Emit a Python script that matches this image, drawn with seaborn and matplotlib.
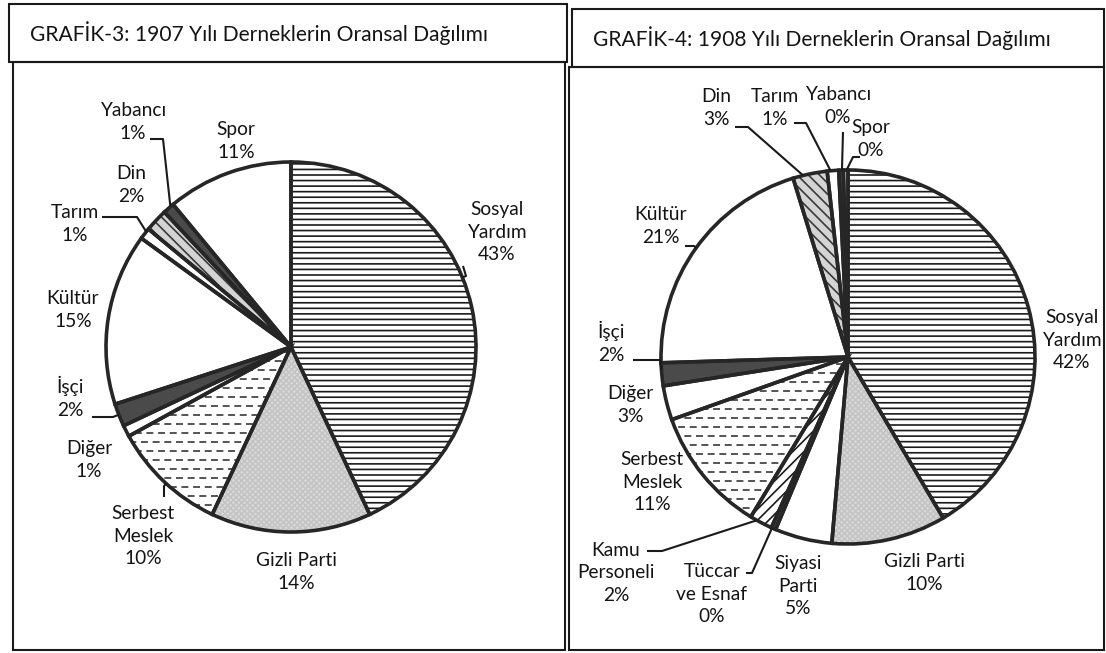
import numpy as np
import matplotlib
matplotlib.use("Agg")
import matplotlib.pyplot as plt
import seaborn as sns
from matplotlib.patches import Rectangle

# ---------------- data ----------------
titles = ["GRAFİK-3: 1907 Yılı Derneklerin Oransal Dağılımı",
          "GRAFİK-4: 1908 Yılı Derneklerin Oransal Dağılımı"]

categories_1907 = ["Sosyal Yardım", "Gizli Parti", "Serbest Meslek", "Diğer", "İşçi",
                   "Kültür", "Tarım", "Din", "Yabancı", "Spor"]
values_1907 = [43, 14, 10, 1, 2, 15, 1, 2, 1, 11]

categories_1908 = ["Sosyal Yardım", "Gizli Parti", "Siyasi Parti", "Tüccar ve Esnaf",
                   "Kamu Personeli", "Serbest Meslek", "Diğer", "İşçi", "Kültür",
                   "Din", "Tarım", "Yabancı", "Spor"]
values_1908 = [42, 10, 5, 0.4, 2, 11, 3, 2, 21, 3, 1, 0.4, 0.4]

# wrapped display names
display_names = {"Sosyal Yardım": "Sosyal\nYardım", "Serbest Meslek": "Serbest\nMeslek",
                 "Siyasi Parti": "Siyasi\nParti", "Tüccar ve Esnaf": "Tüccar\nve Esnaf",
                 "Kamu Personeli": "Kamu\nPersoneli"}

# ---------------- styles ----------------
DARK = "#4a4a4a"
styles = {  # face, hatch, hatch colour
    "Sosyal Yardım": ("white", "---", "#1a1a1a"),
    "Gizli Parti": ("#dadada", "xxxxxx", "#c4c4c4"),
    "Siyasi Parti": ("white", None, "white"),
    "Tüccar ve Esnaf": (DARK, None, DARK),
    "Kamu Personeli": ("white", "///", "#1a1a1a"),
    "Serbest Meslek": ("white", "dash", "#262626"),
    "Diğer": ("white", None, "white"),
    "İşçi": (DARK, None, DARK),
    "Kültür": ("white", None, "white"),
    "Tarım": ("white", None, "white"),
    "Din": ("#d4d4d4", "\\\\\\", "#3a3a3a"),
    "Yabancı": (DARK, None, DARK),
    "Spor": ("white", None, "white"),
}

W, H = 1106, 653
sns.set_theme(style="white")
plt.rcParams["font.family"] = ["Lato", "DejaVu Sans"]
plt.rcParams["lines.scale_dashes"] = False
plt.rcParams["hatch.linewidth"] = 1.2

fig = plt.figure(figsize=(W / 100, H / 100), dpi=100)
fig.patch.set_facecolor("white")
ax = fig.add_axes([0, 0, 1, 1])
ax.set_axis_off()

EDGE = "#262626"
TXT = "#141414"

# layout (image pixel coordinates, y downward)
panels = [
    dict(cats=categories_1907, vals=values_1907, center=(291, 347), r=185,
         title_xy=(30, 33),
         title_box=(9, 4, 567, 62), chart_box=(13, 62, 565, 650),
         label_xy={"Sosyal Yardım": (497, 232), "Gizli Parti": (296, 572),
                   "Serbest Meslek": (143, 536), "Diğer": (89, 460), "İşçi": (70, 397),
                   "Kültür": (73, 310), "Tarım": (75, 224), "Din": (131, 185),
                   "Yabancı": (133, 122), "Spor": (236, 141)},
         leaders={"Yabancı": [(150, 139), (163, 139)], "Tarım": [(102, 217), (137, 217)],
                  "Sosyal Yardım": [(463, 266), (466, 276)], "İşçi": [(92, 417), (113, 417)],
                  "Serbest Meslek": [(164, 497), (164, 486)]}),
    dict(cats=categories_1908, vals=values_1908, center=(848, 357), r=187,
         title_xy=(593, 38),
         title_box=(572, 9, 1104, 67), chart_box=(569, 67, 1104, 650),
         label_xy={"Sosyal Yardım": (1072, 340), "Gizli Parti": (924, 573),
                   "Siyasi Parti": (798, 586), "Tüccar ve Esnaf": (712, 594),
                   "Kamu Personeli": (616, 573), "Serbest Meslek": (652, 482),
                   "Diğer": (630, 405), "İşçi": (611, 342), "Kültür": (661, 226),
                   "Din": (716, 108), "Tarım": (775, 108), "Yabancı": (838, 106),
                   "Spor": (871, 139)},
         leaders={"Din": [(735, 127), (748, 127)], "Tarım": [(794, 123), (806, 123)],
                  "Yabancı": [(843, 132)], "Spor": [(860, 157), (853, 157)],
                  "Kültür": [(685, 246), (694, 246)], "İşçi": [(633, 360), (660, 360)],
                  "Kamu Personeli": [(647, 551), (662, 551)],
                  "Tüccar ve Esnaf": [(746, 573), (752, 573)]}),
]


def Y(y):
    return H - y


for k, p in enumerate(panels):
    # boxes
    for (x0, y0, x1, y1) in (p["title_box"], p["chart_box"]):
        ax.add_patch(Rectangle((x0, Y(y1)), x1 - x0, y1 - y0, fill=False,
                               edgecolor="#1a1a1a", linewidth=1.5, zorder=1))
    ax.text(p["title_xy"][0], Y(p["title_xy"][1]), titles[k],
            fontsize=15.1, color=TXT, ha="left", va="center", zorder=5)

    cx, cy = p["center"]
    r = p["r"]
    cats, vals = p["cats"], p["vals"]
    faces = [styles[c][0] for c in cats]
    wedges, _ = ax.pie(vals, colors=faces, startangle=90, counterclock=False,
                       center=(cx, Y(cy)), radius=r, frame=True,
                       wedgeprops=dict(linewidth=0))
    for w, c in zip(wedges, cats):
        face, hatch, hcol = styles[c]
        w.set_edgecolor(hcol)
        w.set_linewidth(0)
        w.set_zorder(2)
        if hatch and hatch != "dash":
            w.set_hatch(hatch)
        if hatch == "dash":
            yy = np.arange(Y(cy) - r, Y(cy) + r, 9.0)
            for i, yv in enumerate(yy):
                ln, = ax.plot([cx - r, cx + r], [yv, yv], color=hcol, lw=1.1,
                              linestyle=((i % 2) * 4.5, (5.0, 3.4)), zorder=3,
                              solid_capstyle="butt", dash_capstyle="butt")
                ln.set_clip_path(w)
    # outlines
    outl, _ = ax.pie(vals, startangle=90, counterclock=False, center=(cx, Y(cy)),
                     radius=r, frame=True,
                     wedgeprops=dict(facecolor="none", edgecolor=EDGE, linewidth=2.6))
    for w in outl:
        w.set_zorder(4)

    # labels
    for c, v, w in zip(cats, vals, wedges):
        lx, ly = p["label_xy"][c]
        txt = f"{display_names.get(c, c)}\n{round(v)}%"
        ax.text(lx, Y(ly), txt, fontsize=13.8, color=TXT, ha="center", va="center",
                multialignment="center", linespacing=1.42, zorder=6)
        if c in p["leaders"]:
            pts = [(x, Y(y)) for (x, y) in p["leaders"][c]]
            lastx, lasty = pts[-1]
            ang = np.degrees(np.arctan2(lasty - Y(cy), lastx - cx))
            t1, t2 = w.theta1, w.theta2
            ang = (ang - t1) % 360 + t1
            if ang > t2:
                ang = t2 - 0.3 * (t2 - t1) if (ang - t2) < (t1 + 360 - ang) else t1 + 0.3 * (t2 - t1)
            ex = cx + r * np.cos(np.radians(ang))
            ey = Y(cy) + r * np.sin(np.radians(ang))
            xs = [q[0] for q in pts] + [ex]
            ys = [q[1] for q in pts] + [ey]
            ax.plot(xs, ys, color="#1a1a1a", lw=1.5, zorder=5, solid_capstyle="butt")

ax.set_xlim(0, W)
ax.set_ylim(0, H)
ax.set_aspect("auto")
fig.savefig("out.png", dpi=100, facecolor="white")
